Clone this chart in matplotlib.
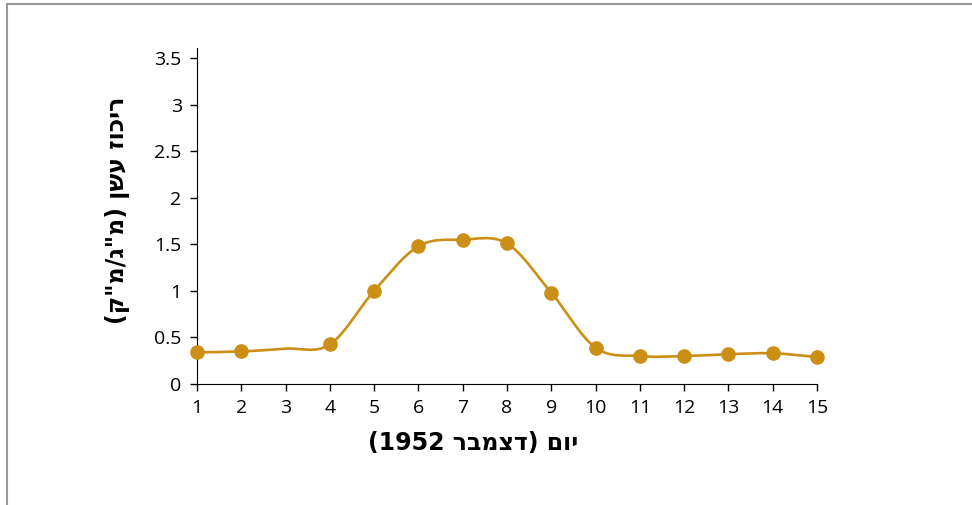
import matplotlib.pyplot as plt
from matplotlib.path import Path
from matplotlib.patches import PathPatch
from matplotlib.lines import Line2D

# Smoke concentration, London, December 1952
days = [1, 2, 3, 4, 5, 6, 7, 8, 9, 10, 11, 12, 13, 14, 15]
smoke = [0.34, 0.35, 0.38, 0.425, 1.0, 1.48, 1.55, 1.51, 0.98, 0.39, 0.30, 0.30, 0.32, 0.33, 0.29]
# day 3 has no marker in the original
marked_days = [1, 2, 4, 5, 6, 7, 8, 9, 10, 11, 12, 13, 14, 15]

x_ticks = list(range(1, 16))
y_ticks = [0, 0.5, 1, 1.5, 2, 2.5, 3, 3.5]
y_tick_labels = ['0', '0.5', '1', '1.5', '2', '2.5', '3', '3.5']

# Hebrew labels, written in visual (left to right) order
x_label = '(1952 ' + 'דצמבר'[::-1] + ') ' + 'יום'[::-1]
y_label = '(' + 'מ"ג/מ"ק'[::-1] + ') ' + 'עשן'[::-1] + ' ' + 'ריכוז'[::-1]

color = '#CB8F16'

fig = plt.figure(figsize=(9.72, 5.05), dpi=100)
ax = fig.add_axes([197 / 972, 1 - 384 / 505, 620 / 972, 336 / 505])

# smoothed line (Catmull-Rom as cubic Bezier segments)
t = 6.0
pts = list(zip(days, smoke))
verts = [pts[0]]
codes = [Path.MOVETO]
for i in range(len(pts) - 1):
    p0 = pts[i - 1] if i > 0 else pts[i]
    p1 = pts[i]
    p2 = pts[i + 1]
    p3 = pts[i + 2] if i + 2 < len(pts) else pts[i + 1]
    c1 = (p1[0] + (p2[0] - p0[0]) / t, p1[1] + (p2[1] - p0[1]) / t)
    c2 = (p2[0] - (p3[0] - p1[0]) / t, p2[1] - (p3[1] - p1[1]) / t)
    verts += [c1, c2, p2]
    codes += [Path.CURVE4] * 3
ax.add_patch(PathPatch(Path(verts, codes), facecolor='none', edgecolor=color,
                       lw=1.9, clip_on=False, zorder=2))

marked_vals = [smoke[days.index(d)] for d in marked_days]
ax.plot(marked_days, marked_vals, 'o', color=color, markersize=9.5,
        clip_on=False, zorder=3)

ax.set_xlim(1, 15)
ax.set_ylim(0, 3.61)
ax.set_xticks(x_ticks)
ax.set_yticks(y_ticks)
ax.set_yticklabels(y_tick_labels)
for lab in ax.get_xticklabels() + ax.get_yticklabels():
    lab.set_family('Open Sans')
    lab.set_fontsize(14)
ax.tick_params(direction='out', length=5, width=1, colors='black')
ax.tick_params(axis='x', pad=6)
ax.tick_params(axis='y', pad=6)
ax.spines['top'].set_visible(False)
ax.spines['right'].set_visible(False)

fig.text(473 / 972, 1 - 443 / 505, x_label, ha='center', va='center',
         fontsize=17, fontweight='bold', family=['DejaVu Sans'])
fig.text(118 / 972, 1 - 210 / 505, y_label, ha='center', va='center', rotation=90,
         fontsize=17, fontweight='bold', family=['DejaVu Sans'])

# partial grey frame, as in the original
fig.add_artist(Line2D([6.5 / 972, 6.5 / 972], [0, 1 - 4 / 505], color='#999999', lw=1.5))
fig.add_artist(Line2D([6.5 / 972, 1], [1 - 4 / 505, 1 - 4 / 505], color='#999999', lw=1.5))

fig.savefig('out.png', dpi=100)
